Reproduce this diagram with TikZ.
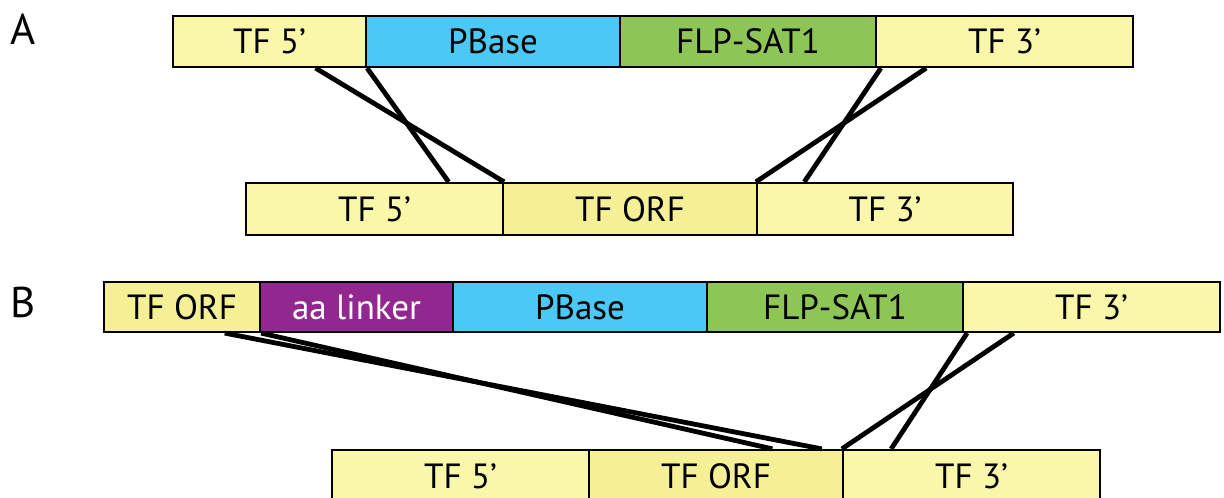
\documentclass[tikz,border=0pt]{standalone}
\usepackage{fontspec}
\setmainfont{PT Sans}
\usetikzlibrary{calc}
\definecolor{tfpale}{RGB}{250,246,170}
\definecolor{tforf}{RGB}{245,240,150}
\definecolor{pbasecol}{RGB}{75,200,244}
\definecolor{flpcol}{RGB}{141,198,86}
\definecolor{linkcol}{RGB}{146,39,143}
\tikzset{
  seg/.style={draw=black, line width=2.2pt, inner sep=0pt, rectangle,
    font=\fontsize{35pt}{42pt}\selectfont, text height=24.5pt, text depth=0pt},
  link/.style={draw=black, line width=4.8pt},
  panel/.style={font=\fontsize{43pt}{50pt}\selectfont, inner sep=0pt}
}
\begin{document}
\begin{tikzpicture}[x=1pt,y=-1pt]
\useasboundingbox (0,0) rectangle (1224,498);
\clip (0,0) rectangle (1224,498);
\fill[white] (0,0) rectangle (1224,498);
% panel labels
\node[panel] (lA) at (23.5,29.5) {A};
\node[panel] (lB) at (23,302.5) {B};
% A top row
\node[seg, fill=tfpale, minimum width=193pt, minimum height=51pt] (a5) at (269.5,41.5) {TF 5’};
\node[seg, fill=pbasecol, minimum width=254pt, minimum height=51pt] (apb) at (493,41.5) {PBase};
\node[seg, fill=flpcol, minimum width=256pt, minimum height=51pt] (aflp) at (748,41.5) {FLP-SAT1};
\node[seg, fill=tfpale, minimum width=257pt, minimum height=51pt] (a3) at (1004.5,41.5) {TF 3’};
% A bottom row
\node[seg, fill=tfpale, minimum width=257pt, minimum height=52pt] (b5) at (374.5,209) {TF 5’};
\node[seg, fill=tforf, minimum width=254pt, minimum height=52pt] (borf) at (630,209) {TF ORF};
\node[seg, fill=tfpale, minimum width=256pt, minimum height=52pt] (b3) at (885,209) {TF 3’};
% B top row
\node[seg, fill=tforf, minimum width=156pt, minimum height=50pt] (corf) at (182,307) {TF ORF};
\node[seg, fill=linkcol, text=white, minimum width=193pt, minimum height=50pt] (clink) at (356.5,307) {aa linker};
\node[seg, fill=pbasecol, minimum width=254pt, minimum height=50pt] (cpb) at (580,307) {PBase};
\node[seg, fill=flpcol, minimum width=256pt, minimum height=50pt] (cflp) at (835,307) {FLP-SAT1};
\node[seg, fill=tfpale, minimum width=257pt, minimum height=50pt] (c3) at (1091.5,307) {TF 3’};
% B bottom row
\node[seg, fill=tfpale, minimum width=257pt, minimum height=52pt] (d5) at (460.5,476) {TF 5’};
\node[seg, fill=tforf, minimum width=254pt, minimum height=52pt] (dorf) at (716,476) {TF ORF};
\node[seg, fill=tfpale, minimum width=257pt, minimum height=52pt] (d3) at (971.5,476) {TF 3’};
% A connectors
\draw[link] ($(a5.south west)!0.736!(a5.south east)$) -- (b5.north east);
\draw[link] (a5.south east) -- ($(b5.north west)!0.786!(b5.north east)$);
\draw[link] ($(a3.south west)!0.023!(a3.south east)$) -- ($(b3.north west)!0.1875!(b3.north east)$);
\draw[link] ($(a3.south west)!0.198!(a3.south east)$) -- (b3.north west);
% B connectors
\draw[link] ($(corf.south west)!0.77!(corf.south east)$) -- ($(dorf.north west)!0.913!(dorf.north east)$);
\draw[link] (corf.south east) -- ($(dorf.north west)!0.72!(dorf.north east)$);
\draw[link] ($(c3.south west)!0.02!(c3.south east)$) -- ($(d3.north west)!0.19!(d3.north east)$);
\draw[link] ($(c3.south west)!0.2!(c3.south east)$) -- (d3.north west);
\end{tikzpicture}
\end{document}
